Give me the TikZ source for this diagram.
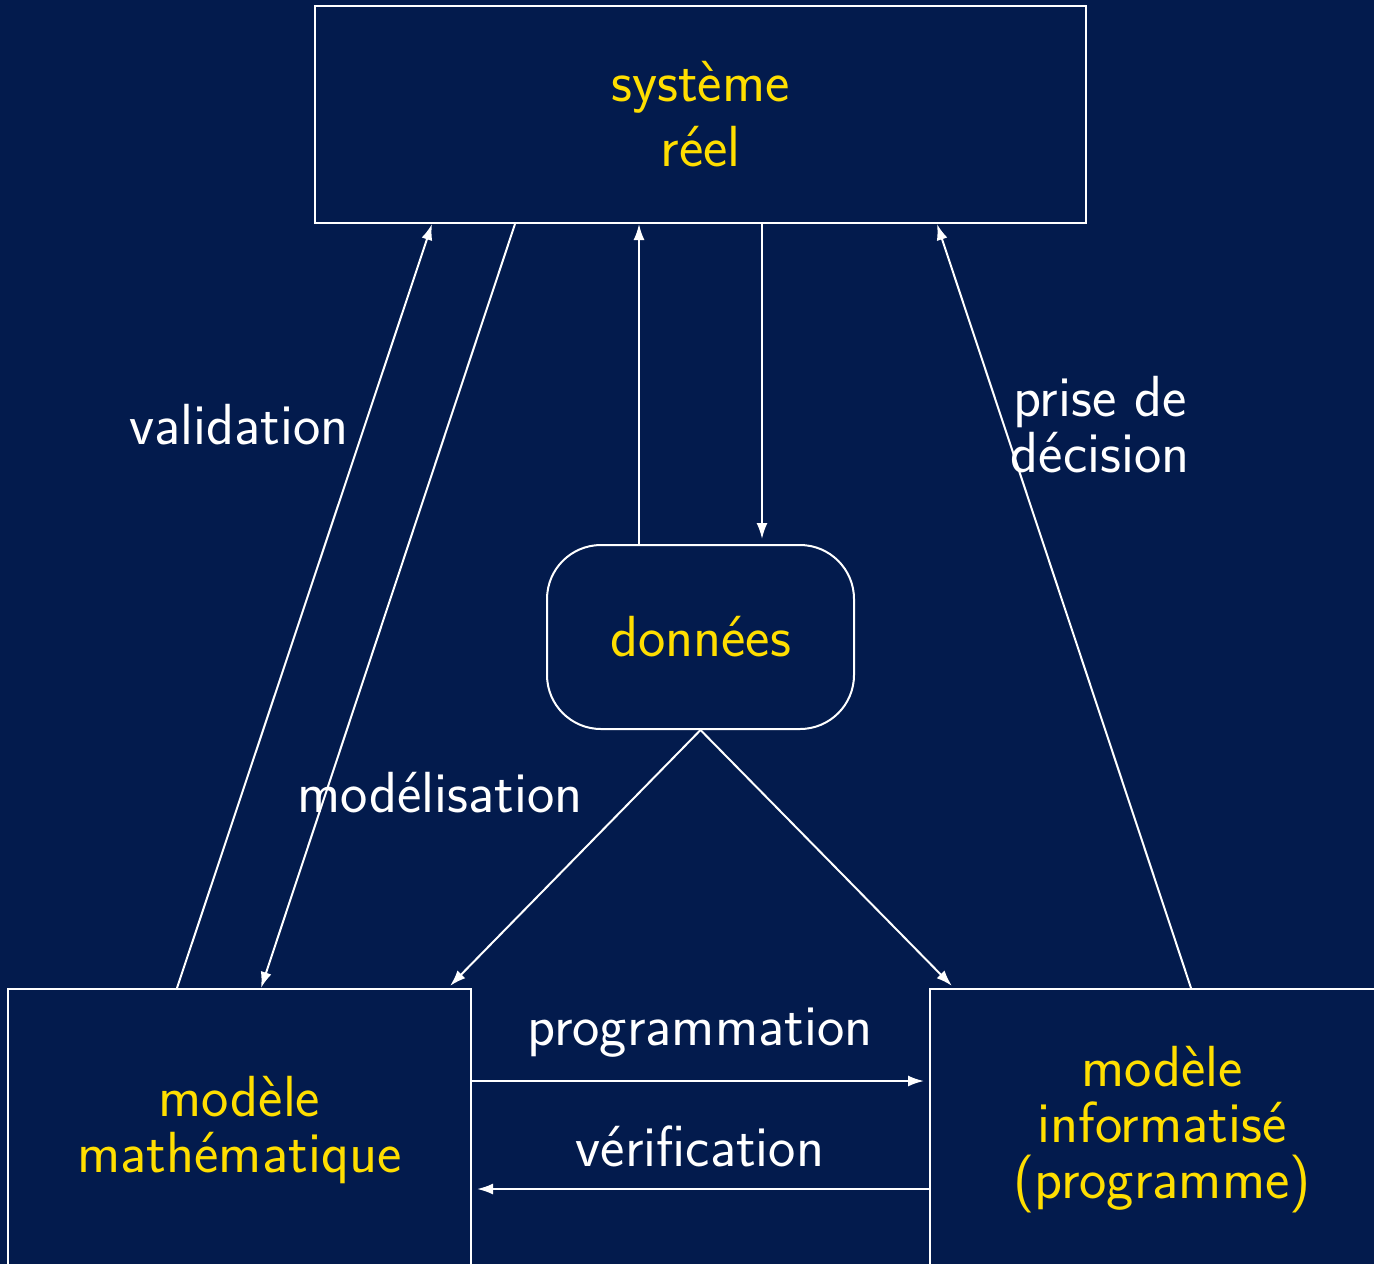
\documentclass[tikz,border=0pt]{standalone}
\usepackage{fontspec}
\usetikzlibrary{arrows.meta,calc}
\definecolor{bg}{RGB}{3,27,77}
\definecolor{txtyellow}{RGB}{255,222,0}
\begin{document}
\begin{tikzpicture}[x=0.5pt,y=-0.5pt,
  every node/.style={font=\sffamily\fontsize{29}{28}\selectfont, inner sep=0pt},
  box/.style={draw=white, line width=1pt, text=txtyellow, align=center},
  lbl/.style={text=white, align=center},
  conn/.style={draw=white, line width=1pt, -{Latex[length=8pt,width=5.5pt]}}
]
\fill[bg] (0,0) rectangle (1374,1264);
\useasboundingbox (0,0) rectangle (1374,1264);

\node[box, minimum width=385.5pt, minimum height=108.5pt] (sys) at (700.5,114.5) {système\\[4.5pt]réel};
\node[box, rounded corners=27pt, minimum width=153.5pt, minimum height=92pt] (don) at (700.5,637) {données};
\node[box, minimum width=231.5pt, minimum height=141pt] (mm) at (239.5,1130) {modèle\\mathématique};
\node[box, minimum width=232pt, minimum height=141pt] (mi) at (1162,1130) {modèle\\informatisé\\(programme)};

\draw[conn] ($(mm.north west)+(170,0)$) -- ($(sys.south west)+(118,0)$);
\draw[conn] ($(sys.south west)+(201,0)$) -- ($(mm.north west)+(254,0)$);
\draw[conn] ($(don.north)+(-61.5,0)$) -- ($(sys.south)+(-61.5,0)$);
\draw[conn, shorten >=2.5pt] ($(sys.south)+(61.5,0)$) -- ($(don.north)+(61.5,0)$);
\draw[conn, shorten >=1.5pt] (don.south) -- ($(mm.north east)+(-24,0)$);
\draw[conn, shorten >=1.5pt] (don.south) -- ($(mi.north west)+(25,0)$);
\draw[conn] ($(mi.north west)+(262,0)$) -- ($(sys.south west)+(623,0)$);
\draw[conn, shorten >=2.5pt] ($(mm.north east)+(0,93)$) -- ($(mi.north west)+(0,93)$);
\draw[conn, shorten >=2.5pt] ($(mi.north west)+(0,201)$) -- ($(mm.north east)+(0,201)$);

\node[lbl] (lval) at (239,425) {validation};
\node[lbl] (lmod) at (440,793) {modélisation};
\node[lbl] (lpd) at (1100,425) {prise de\\décision};
\node[lbl] (lprog) at (700,1033) {programmation};
\node[lbl] (lver) at (700,1146) {vérification};
\end{tikzpicture}
\end{document}
